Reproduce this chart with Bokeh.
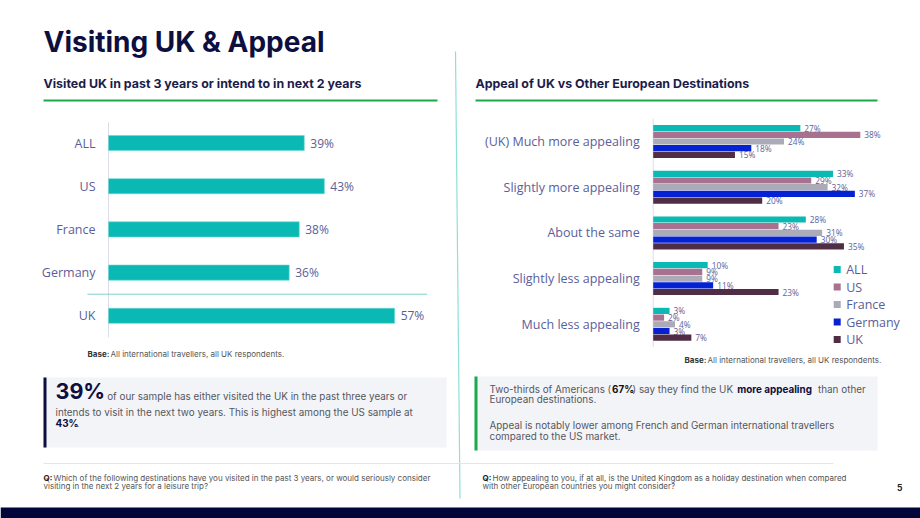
from bokeh.plotting import figure
from bokeh.models import Range1d, ColumnDataSource
from bokeh.core.properties import value
from bokeh.embed import file_html
from bokeh.resources import INLINE

# ---------------- data ----------------
visit_categories = ["ALL", "US", "France", "Germany", "UK"]
visit_pct = [39, 43, 38, 36, 57]

appeal_levels = ["(UK) Much more appealing", "Slightly more appealing", "About the same",
                 "Slightly less appealing", "Much less appealing"]
series_names = ["ALL", "US", "France", "Germany", "UK"]
appeal_all = [27, 33, 28, 10, 3]
appeal_us = [38, 29, 23, 9, 2]
appeal_france = [24, 32, 31, 9, 4]
appeal_germany = [18, 37, 30, 11, 3]
appeal_uk = [15, 20, 35, 23, 7]
appeal_series = [appeal_all, appeal_us, appeal_france, appeal_germany, appeal_uk]

# ---------------- styles ----------------
NAVY = "#0d0f3f"
TEAL = "#0bb9b4"
GREEN = "#1aa94b"
LABEL = "#5a5e9a"
BODY = "#55575f"
SERIES_COLORS = ["#0bb9b4", "#a8718f", "#aaabb6", "#0521d4", "#4f2e45"]
SLIDE_FONT = value("Inter")
CHART_FONT = value("Open Sans")

W, H = 920, 518
p = figure(width=W, height=H, x_range=Range1d(0, W), y_range=Range1d(H, 0),
           output_backend="svg", toolbar_location=None, min_border=0,
           x_axis_type=None, y_axis_type=None)
p.grid.visible = False
p.outline_line_color = None
p.background_fill_color = "white"
p.border_fill_color = "white"


def x_scale(px0, px_per_unit):
    start = -px0 / px_per_unit
    return Range1d(start, start + W / px_per_unit)


def y_scale(py0, px_per_unit):
    # value 0 sits at py0 pixels from the top; values grow downwards
    top = -py0 / px_per_unit
    bottom = (H - py0) / px_per_unit
    return Range1d(bottom, top)


p.extra_x_ranges = {"lx": x_scale(108, 5.02), "rx": x_scale(652.7, 5.45)}
p.extra_y_ranges = {"ly": y_scale(142.5, 43.2), "ry": y_scale(141, 45.7)}


def txt(x, y, s, size, color, bold=False, align="left", font=SLIDE_FONT):
    p.text(x=[x], y=[y], text=[s], text_font=font, text_font_size=f"{size}px",
           text_color=color, text_font_style="bold" if bold else "normal",
           text_align=align, text_baseline="middle")


# ---------------- slide frame ----------------
txt(43, 41.5, "Visiting UK & Appeal", 28, NAVY, bold=True)
txt(43, 83, "Visited UK in past 3 years or intend to in next 2 years", 12.4, "#1b1d4b", bold=True)
txt(475, 83, "Appeal of UK vs Other European Destinations", 12.4, "#1b1d4b", bold=True)
p.segment(x0=[43, 475], y0=[100, 100], x1=[437, 877], y1=[100, 100], line_color=GREEN, line_width=2)
p.segment(x0=[455], y0=[51], x1=[459.5], y1=[498], line_color="#8fe0d8", line_width=1.2)
p.segment(x0=[43], y0=[463], x1=[833], y1=[463], line_color="#e4e4ea", line_width=1)
p.quad(left=[0], right=[W], top=[507], bottom=[H], fill_color="#02053a", line_color=None)

# ---------------- left chart ----------------
left_src = ColumnDataSource(dict(
    idx=list(range(len(visit_categories))), cat=visit_categories, pct=visit_pct,
    lbl=[f"{v}%" for v in visit_pct]))
n_left = len(visit_categories)
p.segment(x0=[0], y0=[-0.48], x1=[0], y1=[n_left - 0.5], x_range_name="lx", y_range_name="ly",
          line_color="#dcdcea", line_width=1)
p.segment(x0=[-4.2], y0=[n_left - 1.5], x1=[63.5], y1=[n_left - 1.5], x_range_name="lx",
          y_range_name="ly", line_color="#7fd3cf", line_width=1)
p.hbar(y="idx", left=0, right="pct", height=0.35, source=left_src, x_range_name="lx",
       y_range_name="ly", fill_color=TEAL, line_color="#6fd6d2", line_width=0.6)
p.text(x=0, y="idx", text="cat", source=left_src, x_range_name="lx", y_range_name="ly",
       x_offset=-13, text_align="right", text_baseline="middle", text_font=CHART_FONT,
       text_font_size="12.5px", text_color=LABEL)
p.text(x="pct", y="idx", text="lbl", source=left_src, x_range_name="lx", y_range_name="ly",
       x_offset=6, text_align="left", text_baseline="middle", text_font=CHART_FONT,
       text_font_size="12px", text_color=LABEL)
txt(87, 353, "Base:", 8, "#333333", bold=True)
txt(110, 353, "All international travellers, all UK respondents.", 8, "#555555")

# ---------------- right chart ----------------
n_groups = len(appeal_levels)
n_series = len(series_names)
slot = 6.7 / 45.7
p.segment(x0=[0], y0=[-0.5], x1=[0], y1=[n_groups - 0.5], x_range_name="rx", y_range_name="ry",
          line_color="#dcdcea", line_width=1)
for k, (name, vals, color) in enumerate(zip(series_names, appeal_series, SERIES_COLORS)):
    src = ColumnDataSource(dict(
        y=[g + (k - (n_series - 1) / 2) * slot for g in range(n_groups)],
        v=vals, lbl=[f"{v}%" for v in vals]))
    p.hbar(y="y", left=0, right="v", height=slot * 0.92, source=src, x_range_name="rx",
           y_range_name="ry", fill_color=color, line_color=None)
    p.text(x="v", y="y", text="lbl", source=src, x_range_name="rx", y_range_name="ry",
           x_offset=4, text_align="left", text_baseline="middle", text_font=CHART_FONT,
           text_font_size="8.3px", text_color="#5d6096")
cat_src = ColumnDataSource(dict(g=list(range(n_groups)), lvl=appeal_levels))
p.text(x=0, y="g", text="lvl", source=cat_src, x_range_name="rx", y_range_name="ry",
       x_offset=-13.5, text_align="right", text_baseline="middle", text_font=CHART_FONT,
       text_font_size="12.5px", text_color=LABEL)

# legend
leg_y = [269 + 17.5 * i for i in range(n_series)]
p.scatter(x=[836.7] * n_series, y=leg_y, marker="square", size=7, fill_color=SERIES_COLORS,
          line_color=None)
p.text(x=[845.7] * n_series, y=leg_y, text=series_names, text_font=CHART_FONT,
       text_font_size="12.5px", text_color=LABEL, text_baseline="middle")
txt(684, 359, "Base:", 8, "#333333", bold=True)
txt(707, 359, "All international travellers, all UK respondents.", 8, "#555555")

# ---------------- callouts ----------------
p.quad(left=[43], right=[446], top=[377], bottom=[447], fill_color="#f3f4f7", line_color=None)
p.quad(left=[43], right=[46], top=[377], bottom=[447], fill_color=NAVY, line_color=None)
txt(55, 390.5, "39%", 21.5, NAVY, bold=True)
txt(106.7, 395.5, "of our sample has either visited the UK in the past three years or", 9.9, BODY)
txt(55, 411.7, "intends to visit in the next two years. This is highest among the US sample at", 9.9, BODY)
txt(55, 422.5, "43%", 9.9, NAVY, bold=True)
txt(76, 422.5, ".", 9.9, BODY)

p.quad(left=[474], right=[877], top=[376], bottom=[450], fill_color="#f3f4f7", line_color=None)
p.quad(left=[474], right=[477], top=[376], bottom=[450], fill_color=GREEN, line_color=None)
txt(489, 388.3, "Two-thirds of Americans (", 9.9, BODY)
txt(611.5, 388.3, "67%", 9.9, "#111111", bold=True)
txt(632, 388.3, ") say they find the UK", 9.9, BODY)
txt(736.7, 388.3, "more appealing", 9.9, NAVY, bold=True)
txt(817.5, 388.3, "than other", 9.9, BODY)
txt(489, 398.9, "European destinations.", 9.9, BODY)
txt(489, 424.3, "Appeal is notably lower among French and German international travellers", 9.9, BODY)
txt(489, 435.3, "compared to the US market.", 9.9, BODY)

# ---------------- footer ----------------
txt(43, 477, "Q:", 8, "#222222", bold=True)
txt(53, 477, "Which of the following destinations have you visited in the past 3 years, or would seriously consider", 8, "#555555")
txt(43, 485.5, "visiting in the next 2 years for a leisure trip?", 8, "#555555")
txt(482, 477, "Q:", 8, "#222222", bold=True)
txt(492, 477, "How appealing to you, if at all, is the United Kingdom as a holiday destination when compared", 8, "#555555")
txt(482, 485.5, "with other European countries you might consider?", 8, "#555555")
txt(896.5, 486.5, "5", 8.5, "#222222", bold=True)

open("out.html", "w").write(file_html(p, INLINE))
